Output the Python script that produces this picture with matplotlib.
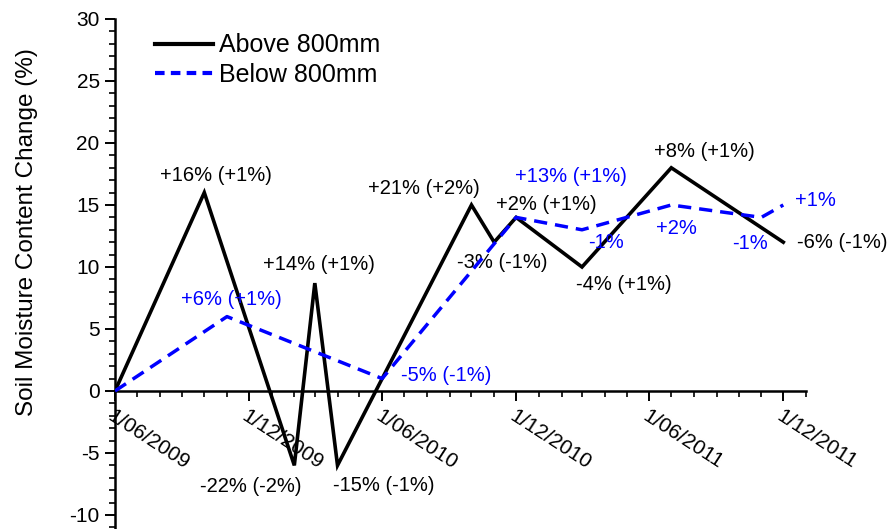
import datetime as dt
import matplotlib
matplotlib.use("Agg")
import matplotlib.pyplot as plt
import matplotlib.dates as mdates
from matplotlib.lines import Line2D
from matplotlib.ticker import MultipleLocator, FuncFormatter

plt.rcParams['font.family'] = ['Liberation Sans', 'DejaVu Sans']
plt.rcParams['axes.unicode_minus'] = False

# Soil moisture change, probes above 800mm depth
above_dates = [dt.date(2009, 6, 1), dt.date(2009, 10, 1), dt.date(2010, 2, 1),
               dt.date(2010, 3, 1), dt.date(2010, 4, 1), dt.date(2010, 10, 1),
               dt.date(2010, 11, 1), dt.date(2010, 12, 1), dt.date(2011, 3, 1),
               dt.date(2011, 7, 1), dt.date(2011, 12, 1)]
above_vals = [0, 16, -6, 8.7, -6, 15, 12, 14, 10, 18, 12]
above_labels = [None, '+16% (+1%)', '-22% (-2%)', '+14% (+1%)', '-15% (-1%)',
                '+21% (+2%)', '-3% (-1%)', '+2% (+1%)', '-4% (+1%)',
                '+8% (+1%)', '-6% (-1%)']

# Soil moisture change, probes below 800mm depth
below_dates = [dt.date(2009, 6, 1), dt.date(2009, 11, 1), dt.date(2010, 6, 1),
               dt.date(2010, 12, 1), dt.date(2011, 3, 1), dt.date(2011, 7, 1),
               dt.date(2011, 11, 1), dt.date(2011, 12, 1)]
below_vals = [0, 6, 1, 14, 13, 15, 14, 15]
below_labels = [None, '+6% (+1%)', '-5% (-1%)', '+13% (+1%)', '-1%', '+2%',
                '-1%', '+1%']

# label offsets from each point, in pixels
above_offsets = [None, (12, 17), (-44, -21), (4, 19), (46, -20), (-48, 16),
                 (8, -20), (30, 13), (42, -18), (33, 16), (59, 0)]
below_offsets = [None, (4, 17), (64, 3), (55, 41), (24, -13), (5, -24),
                 (-11, -26), (32, 4)]

fig = plt.figure(figsize=(8.9, 5.29), dpi=100)
ax = fig.add_axes([0.1292, 0.0, 0.7764, 0.9641])

ax.plot(above_dates, above_vals, color='black', lw=2.6,
        solid_joinstyle='miter', zorder=3)
ax.plot(below_dates, below_vals, color='blue', lw=2.5,
        linestyle=(0, (3.8, 2.3)), zorder=4)

for d, v, lab, off in zip(above_dates, above_vals, above_labels, above_offsets):
    if lab:
        ax.annotate(lab, (d, v), xytext=off, textcoords='offset pixels',
                    ha='center', va='center', fontsize=14.5, color='black')
for d, v, lab, off in zip(below_dates, below_vals, below_labels, below_offsets):
    if lab:
        ax.annotate(lab, (d, v), xytext=off, textcoords='offset pixels',
                    ha='center', va='center', fontsize=14.5, color='blue')

ax.set_xlim(dt.date(2009, 6, 1), dt.date(2012, 1, 1))
ax.set_ylim(-11.13, 30)

ax.spines['top'].set_visible(False)
ax.spines['right'].set_visible(False)
ax.spines['bottom'].set_position(('data', 0))
ax.spines['bottom'].set_linewidth(1.8)
ax.spines['left'].set_linewidth(1.8)

ax.xaxis.set_major_locator(mdates.MonthLocator(bymonth=[6, 12]))
ax.xaxis.set_minor_locator(mdates.MonthLocator())
ax.xaxis.set_major_formatter(FuncFormatter(
    lambda x, pos: (lambda d: f"{d.day}/{d.month:02d}/{d.year}")(mdates.num2date(x))))
ax.yaxis.set_major_locator(MultipleLocator(5))
ax.yaxis.set_minor_locator(MultipleLocator(1))

ax.tick_params(which='major', direction='out', length=7.5, width=1.4, labelsize=15)
ax.tick_params(which='minor', direction='out', length=4, width=1.2)
for lab in ax.get_xticklabels():
    lab.set_rotation(-33)
    lab.set_ha('left')
    lab.set_va('top')
    lab.set_rotation_mode('anchor')

fig.text(27 / 890, 1 - 232 / 529, 'Soil Moisture Content Change (%)',
         rotation=90, ha='center', va='center', fontsize=17.5)

handles = [Line2D([], [], color='black', lw=3),
           Line2D([], [], color='blue', lw=3, linestyle=(0, (2.3, 1.5)))]
ax.legend(handles, ['Above 800mm', 'Below 800mm'], loc='upper left',
          bbox_to_anchor=(0.058, 0.972), frameon=False,
          fontsize=18, handlelength=2.3, handletextpad=0.25, labelspacing=0.22,
          borderpad=0, borderaxespad=0)

fig.savefig('out.png', dpi=100)
